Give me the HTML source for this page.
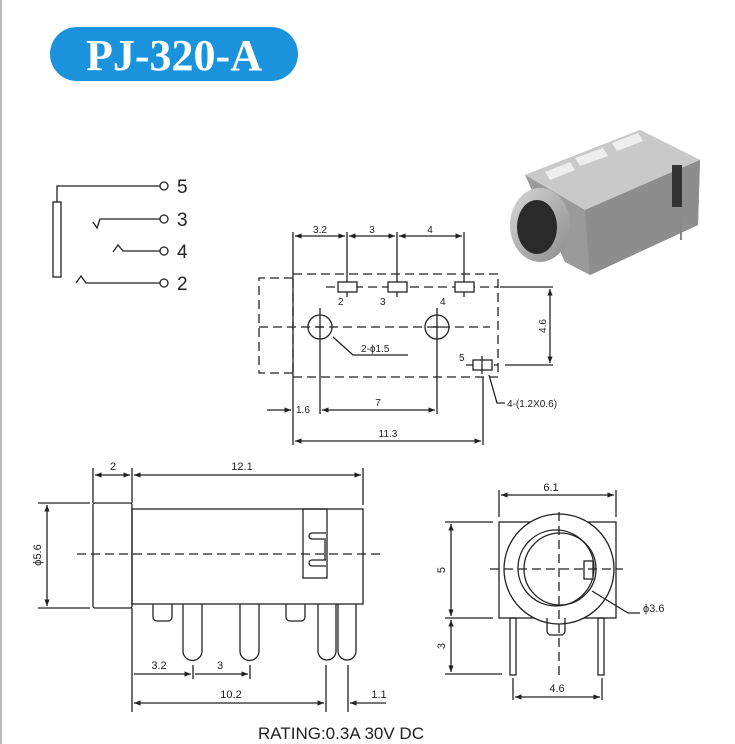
<!DOCTYPE html>
<html><head><meta charset="utf-8"><style>
html,body{margin:0;padding:0;background:#fff;}
svg{display:block;}
text{font-family:"Liberation Sans",sans-serif;fill:#222;}
</style></head><body>
<svg width="735" height="744" viewBox="0 0 735 744" xmlns="http://www.w3.org/2000/svg">
<defs>
<marker id="a" viewBox="0 0 10 10" refX="10" refY="5" markerWidth="7" markerHeight="5" orient="auto-start-reverse"><path d="M0,1 L10,5 L0,9 z" fill="#222"/></marker>
<linearGradient id="g1" x1="0" y1="0" x2="1" y2="1"><stop offset="0" stop-color="#d8d8d8"/><stop offset="1" stop-color="#8a8a8a"/></linearGradient>
</defs>
<line x1="1" y1="0" x2="1" y2="744" stroke="#bbb" stroke-width="2"/>
<!-- title -->
<rect x="50" y="27" width="248" height="54" rx="27" fill="#1a93dc"/>
<text x="174" y="70" text-anchor="middle" style="font-family:'Liberation Serif',serif;font-weight:bold;font-size:44px;fill:#fff">PJ-320-A</text>

<!-- schematic -->
<g stroke="#222" stroke-width="1.3" fill="none">
<rect x="53" y="202" width="8" height="75"/>
<polyline points="57,202 57,186 160,186"/>
<circle cx="164" cy="186" r="4" fill="#fff"/>
<polyline points="93,222 97,228 100,219 160,219"/>
<circle cx="164" cy="219" r="4" fill="#fff"/>
<polyline points="113,252 118,245 123,251 160,251"/>
<circle cx="164" cy="251" r="4" fill="#fff"/>
<polyline points="76,283 81,276 86,283 160,283"/>
<circle cx="164" cy="283" r="4" fill="#fff"/>
</g>
<g style="font-size:19px">
<text x="177" y="193">5</text><text x="177" y="226">3</text><text x="177" y="258">4</text><text x="177" y="290">2</text>
</g>

<!-- photo -->
<g>
<polygon points="525,175 640,130 700,160 698,225 590,275 565,262" fill="#9a9a9a"/>
<polygon points="525,175 640,130 700,160 585,210" fill="#c9c9c9"/>
<polygon points="585,210 700,160 698,225 590,275" fill="#8d8d8d"/>
<rect x="672" y="165" width="10" height="42" fill="#333"/>
<rect x="680" y="215" width="2" height="25" fill="#888"/>
<polygon points="545,172 570,162 575,170 550,180" fill="#eee"/>
<polygon points="575,158 603,148 608,156 580,166" fill="#eee"/>
<polygon points="612,143 638,133 643,141 617,151" fill="#eee"/>
<ellipse cx="540" cy="225" rx="30" ry="37" fill="url(#g1)"/>
<ellipse cx="537" cy="227" rx="20" ry="27" fill="#2a2a2a"/>
</g>

<!-- top view -->
<g stroke="#222" stroke-width="1.3" fill="none">
<line x1="293" y1="232" x2="293" y2="445"/>
<line x1="347" y1="232" x2="347" y2="297"/>
<line x1="397" y1="232" x2="397" y2="297"/>
<line x1="464" y1="232" x2="464" y2="297"/>
<line x1="295" y1="236" x2="345" y2="236" marker-end="url(#a)" marker-start="url(#a)"/>
<line x1="349" y1="236" x2="395" y2="236" marker-end="url(#a)" marker-start="url(#a)"/>
<line x1="399" y1="236" x2="462" y2="236" marker-end="url(#a)" marker-start="url(#a)"/>
<g stroke-dasharray="9,5">
<rect x="293" y="274" width="205" height="103"/>
<polyline points="293,278 259,278 259,373 293,373"/>
<line x1="259" y1="327" x2="490" y2="327"/>
<line x1="326" y1="287" x2="498" y2="287"/>
<line x1="466" y1="365" x2="498" y2="365"/>
</g>
<rect x="338" y="282" width="19" height="10" fill="#fff"/>
<rect x="388" y="282" width="19" height="10" fill="#fff"/>
<rect x="455" y="282" width="19" height="10" fill="#fff"/>
<rect x="473" y="360" width="19" height="10" fill="#fff"/>
<line x1="482" y1="356" x2="482" y2="374"/>
<circle cx="320" cy="327" r="12"/>
<circle cx="437" cy="327" r="12"/>
<line x1="320" y1="308" x2="320" y2="414"/>
<line x1="437" y1="308" x2="437" y2="414"/>
<line x1="316" y1="327" x2="324" y2="327"/><line x1="433" y1="327" x2="441" y2="327"/>
<polyline points="333,337 353,355 408,355"/>
<polyline points="489,375 497,403 505,403"/>
<line x1="500" y1="287" x2="553" y2="287"/>
<line x1="505" y1="365" x2="553" y2="365"/>
<line x1="550" y1="289" x2="550" y2="363" marker-end="url(#a)" marker-start="url(#a)"/>
<line x1="267" y1="410" x2="291" y2="410" marker-end="url(#a)"/>
<line x1="322" y1="410" x2="435" y2="410" marker-end="url(#a)" marker-start="url(#a)"/>
<line x1="483" y1="377" x2="483" y2="445"/>
<line x1="295" y1="441" x2="481" y2="441" marker-end="url(#a)" marker-start="url(#a)"/>
</g>
<g style="font-size:10px">
<text x="320" y="233" text-anchor="middle">3.2</text>
<text x="372" y="233" text-anchor="middle">3</text>
<text x="430" y="233" text-anchor="middle">4</text>
<text x="338" y="305">2</text><text x="380" y="305">3</text><text x="440" y="305">4</text>
<text x="459" y="361">5</text>
<text x="361" y="352">2-ϕ1.5</text>
<text x="507" y="407">4-(1.2X0.6)</text>
<text x="296" y="413">1.6</text>
<text x="378" y="406" text-anchor="middle">7</text>
<text x="388" y="437" text-anchor="middle">11.3</text>
<text transform="translate(546,326) rotate(-90)" text-anchor="middle">4.6</text>
</g>

<!-- side view -->
<g stroke="#222" stroke-width="1.3" fill="none">
<rect x="93" y="503" width="39" height="105" rx="2"/>
<rect x="132" y="509" width="231" height="95"/>
<rect x="303" y="509" width="24" height="69"/>
<path d="M326,539 h-14 a3,3 0 0 1 0,-6 h14 M326,566 h-14 a3,3 0 0 1 0,-6 h14 M325,540 v20"/>
<line x1="77" y1="554" x2="380" y2="554" stroke-dasharray="9,5"/>
<path d="M153,604 v13 a4,4 0 0 0 4,4 h11 a4,4 0 0 0 4,-4 v-13"/>
<path d="M286,604 v13 a4,4 0 0 0 4,4 h11 a4,4 0 0 0 4,-4 v-13"/>
<path d="M183,604 v47 a9.5,9.5 0 0 0 19,0 v-47"/>
<path d="M240,604 v47 a9.5,9.5 0 0 0 19,0 v-47"/>
<path d="M318,604 v47 a9,9 0 0 0 18,0 v-47"/>
<path d="M338,604 v47 a9,9 0 0 0 18,0 v-47"/>
<line x1="93" y1="468" x2="93" y2="503"/>
<line x1="132" y1="468" x2="132" y2="503"/>
<line x1="363" y1="468" x2="363" y2="505"/>
<line x1="95" y1="475" x2="130" y2="475" marker-end="url(#a)" marker-start="url(#a)"/>
<line x1="134" y1="475" x2="361" y2="475" marker-end="url(#a)" marker-start="url(#a)"/>
<line x1="38" y1="503" x2="90" y2="503"/>
<line x1="38" y1="608" x2="90" y2="608"/>
<line x1="47" y1="505" x2="47" y2="606" marker-end="url(#a)" marker-start="url(#a)"/>
<line x1="132" y1="608" x2="132" y2="712"/>
<line x1="193" y1="665" x2="193" y2="679"/>
<line x1="250" y1="665" x2="250" y2="679"/>
<line x1="134" y1="674" x2="191" y2="674" marker-end="url(#a)"/>
<line x1="195" y1="674" x2="248" y2="674" marker-end="url(#a)"/>
<line x1="326" y1="665" x2="326" y2="712"/>
<line x1="348" y1="665" x2="348" y2="712"/>
<line x1="134" y1="703" x2="324" y2="703" marker-end="url(#a)" marker-start="url(#a)"/>
<line x1="386" y1="703" x2="350" y2="703" marker-end="url(#a)"/>
</g>
<g style="font-size:11px">
<text x="113" y="470" text-anchor="middle">2</text>
<text x="242" y="470" text-anchor="middle">12.1</text>
<text transform="translate(41,555) rotate(-90)" text-anchor="middle">ϕ5.6</text>
<text x="159" y="669" text-anchor="middle">3.2</text>
<text x="220" y="669" text-anchor="middle">3</text>
<text x="231" y="698" text-anchor="middle">10.2</text>
<text x="379" y="698" text-anchor="middle">1.1</text>
</g>
<text x="258" y="739" style="font-size:17px">RATING:0.3A 30V DC</text>

<!-- front view -->
<g stroke="#222" stroke-width="1.3" fill="none">
<rect x="499" y="522" width="117" height="96"/>
<circle cx="559" cy="569" r="55" fill="#fff"/>
<circle cx="556" cy="568" r="38"/>
<circle cx="560" cy="569" r="36"/>
<rect x="584" y="561" width="9" height="18" fill="#fff"/>
<path d="M547,618 v13 a4,4 0 0 0 4,4 h10 a4,4 0 0 0 4,-4 v-13"/>
<rect x="510" y="618" width="6" height="57"/>
<rect x="598" y="618" width="6" height="57"/>
<g stroke-dasharray="9,5">
<line x1="490" y1="569" x2="623" y2="569"/>
<line x1="559" y1="512" x2="559" y2="678"/>
</g>
<line x1="499" y1="490" x2="499" y2="517"/>
<line x1="616" y1="490" x2="616" y2="517"/>
<line x1="501" y1="495" x2="614" y2="495" marker-end="url(#a)" marker-start="url(#a)"/>
<line x1="445" y1="522" x2="493" y2="522"/>
<line x1="445" y1="618" x2="493" y2="618"/>
<line x1="445" y1="674" x2="502" y2="674"/>
<line x1="451" y1="524" x2="451" y2="616" marker-end="url(#a)" marker-start="url(#a)"/>
<line x1="451" y1="620" x2="451" y2="672" marker-end="url(#a)" marker-start="url(#a)"/>
<line x1="513" y1="678" x2="513" y2="700"/>
<line x1="602" y1="678" x2="602" y2="700"/>
<line x1="515" y1="697" x2="600" y2="697" marker-end="url(#a)" marker-start="url(#a)"/>
<polyline points="592,591 628,613 640,613"/>
</g>
<g style="font-size:11px">
<text x="551" y="491" text-anchor="middle">6.1</text>
<text transform="translate(445,570) rotate(-90)" text-anchor="middle">5</text>
<text transform="translate(445,646) rotate(-90)" text-anchor="middle">3</text>
<text x="557" y="692" text-anchor="middle">4.6</text>
<text x="643" y="612">ϕ3.6</text>
</g>
</svg>
</body></html>
